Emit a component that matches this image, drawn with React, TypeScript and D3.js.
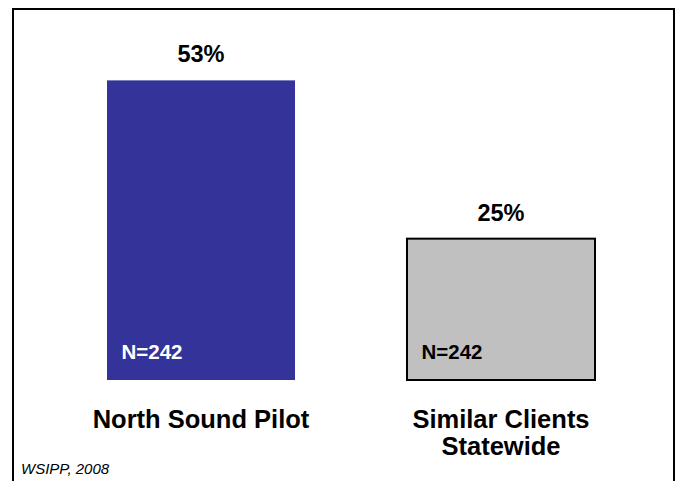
import React from "react";
import * as d3 from "d3";

const categories = ["North Sound Pilot", "Similar Clients\nStatewide"];
const values = [53, 25];
const valueLabels = ["53%", "25%"];
const nLabels = ["N=242", "N=242"];
const fills = ["#333399", "#C0C0C0"];
const strokes = ["none", "#000000"];
const nColors = ["#FFFFFF", "#000000"];
const source = "WSIPP, 2008";

const W = 678;
const H = 481;
const FONT = "'Liberation Sans', Arial, Helvetica, sans-serif";

export default function App() {
  const x = d3
    .scaleBand<string>()
    .domain(categories)
    .range([51, 651])
    .paddingInner(0.3733)
    .paddingOuter(0.18667);
  const y = d3.scaleLinear().domain([0, 60]).range([380, 40.8]);
  const bw = x.bandwidth();

  return (
    <div style={{ position: "absolute", left: 0, top: 0 }}>
      <svg width={W} height={H} style={{ display: "block" }}>
        <rect x={0} y={0} width={W} height={H} fill="#FFFFFF" />
        <rect x={13} y={9} width={661} height={H + 10} fill="none" stroke="#000" strokeWidth={2} />
        {categories.map((c, i) => {
          const x0 = x(c)!;
          const yTop = y(values[i]);
          const cx = x0 + bw / 2;
          const lines = c.split("\n");
          return (
            <g key={c}>
              <rect
                x={x0}
                y={yTop}
                width={bw}
                height={y(0) - yTop}
                fill={fills[i]}
                stroke={strokes[i]}
                strokeWidth={2}
              />
              <text
                x={cx}
                y={yTop - 18}
                textAnchor="middle"
                fontFamily={FONT}
                fontWeight="bold"
                fontSize={23.5}
                fill="#000"
              >
                {valueLabels[i]}
              </text>
              <text
                x={x0 + 14.5}
                y={358.5}
                fontFamily={FONT}
                fontWeight="bold"
                fontSize={20.5}
                fill={nColors[i]}
              >
                {nLabels[i]}
              </text>
              {lines.map((ln, j) => (
                <text
                  key={j}
                  x={cx}
                  y={428 + j * 26.5}
                  textAnchor="middle"
                  fontFamily={FONT}
                  fontWeight="bold"
                  fontSize={25.5}
                  fill="#000"
                >
                  {ln}
                </text>
              ))}
            </g>
          );
        })}
        <text x={21} y={474} fontFamily={FONT} fontStyle="italic" fontSize={15} fill="#000">
          {source}
        </text>
      </svg>
    </div>
  );
}
